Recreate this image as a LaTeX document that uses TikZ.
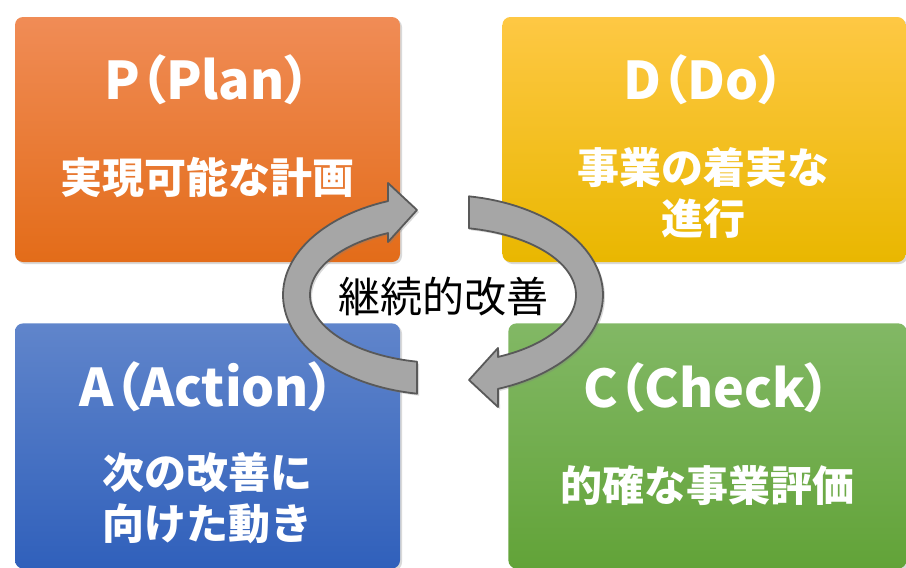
\documentclass[tikz,border=0pt]{standalone}
\usepackage{fontspec}
\setmainfont{Noto Sans CJK JP}
\newfontfamily\headfont{Noto Sans CJK JP}[RawFeature=+palt]
\usepackage{xcolor}
\usetikzlibrary{positioning,shadows}

\definecolor{planTop}{HTML}{F08C56}
\definecolor{planMid}{HTML}{F47D2C}
\definecolor{planBot}{HTML}{E36C19}
\definecolor{doTop}{HTML}{FEC844}
\definecolor{doMid}{HTML}{FFC000}
\definecolor{doBot}{HTML}{E9B700}
\definecolor{actTop}{HTML}{6085CB}
\definecolor{actMid}{HTML}{4472C4}
\definecolor{actBot}{HTML}{3060BB}
\definecolor{chkTop}{HTML}{82B865}
\definecolor{chkMid}{HTML}{70AD47}
\definecolor{chkBot}{HTML}{62A338}
\definecolor{loopFill}{HTML}{A6A6A6}
\definecolor{loopEdge}{HTML}{595959}

\begin{document}
\begin{tikzpicture}[
        x=1pt, y=-1pt,
        phase/.style={rectangle, rounded corners=8pt, minimum height=245pt, inner sep=0pt,
            drop shadow={opacity=0.3, shadow xshift=2pt, shadow yshift=-2pt}},
        ttl/.style={text=white, font=\headfont\bfseries\fontsize{52}{58}\selectfont},
        sub/.style={text=white, align=center, font=\bfseries\fontsize{42}{51}\selectfont},
        cyclearrow/.style={fill=loopFill, draw=loopEdge, line width=1.8pt, line join=round,
            drop shadow={opacity=0.3, shadow xshift=2pt, shadow yshift=-2pt}}
    ]
        \useasboundingbox (0,0) rectangle (906,568);
        % the four phases
        \node[phase, minimum width=385pt, top color=planTop, middle color=planMid, bottom color=planBot] (P) at (207.5,139.5) {};
        \node[phase, minimum width=403pt, right=102pt of P, top color=doTop, middle color=doMid, bottom color=doBot] (D) {};
        \node[phase, minimum width=385pt, below=61pt of P, top color=actTop, middle color=actMid, bottom color=actBot] (A) {};
        \node[phase, minimum width=398pt, right=108pt of A, top color=chkTop, middle color=chkMid, bottom color=chkBot] (C) {};

        \node[ttl] (Pt) at ([yshift=59.5pt]P.center) {P（Plan）};
        \node[sub] (Ps) at ([yshift=-38.5pt]P.center) {実現可能な計画};
        \node[ttl] (Dt) at ([yshift=59.5pt]D.center) {D（Do）};
        \node[sub] (Ds) at ([yshift=-53.5pt]D.center) {事業の着実な\\進行};
        \node[ttl] (At) at ([yshift=59.5pt]A.center) {A（Action）};
        \node[sub] (As) at ([yshift=-52pt]A.center) {次の改善に\\向けた動き};
        \node[ttl] (Ct) at ([yshift=58.5pt]C.center) {C（Check）};
        \node[sub] (Cs) at ([yshift=-39.5pt]C.center) {的確な事業評価};

        % the improvement cycle
        \draw[cyclearrow]
            plot[domain=99.35:249.9, samples=60] ({443+160*cos(\x)},{295+100*sin(\x)})
            -- (388,183) -- (417,210) -- (388,242)
            -- plot[domain=245.6:101.27, samples=60] ({443+133*cos(\x)},{295+68*sin(\x)})
            -- cycle;
        \draw[cyclearrow]
            plot[domain=279.35:429.9, samples=60] ({443+160*cos(\x)},{295+100*sin(\x)})
            -- (498,407) -- (469,380) -- (498,348)
            -- plot[domain=425.6:281.27, samples=60] ({443+133*cos(\x)},{295+68*sin(\x)})
            -- cycle;

        \node[font=\fontsize{42}{48}\selectfont] (kaizen) at (443,297) {継続的改善};
    \end{tikzpicture}
\end{document}
